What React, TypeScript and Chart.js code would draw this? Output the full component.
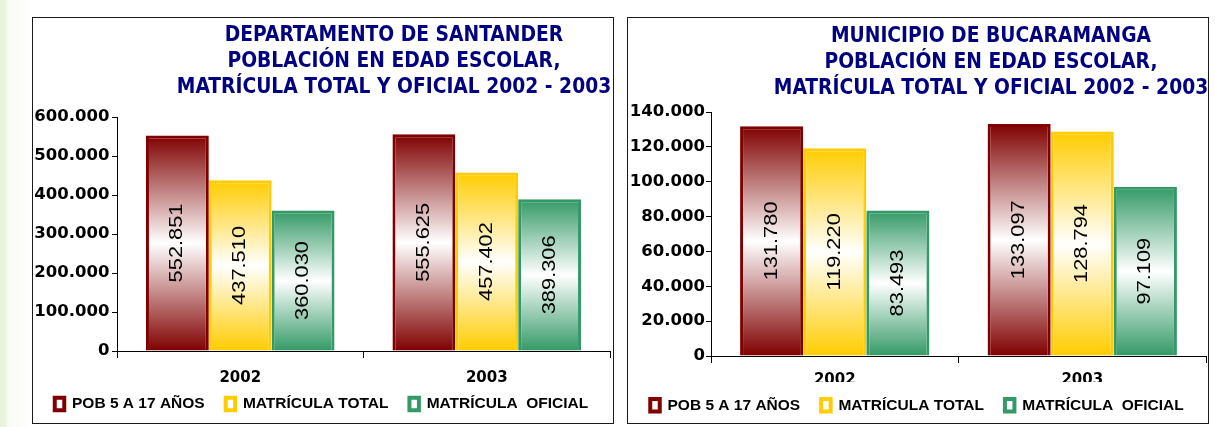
import React, { useEffect, useRef } from 'react';
import { Chart, registerables } from 'chart.js';

Chart.register(...registerables);

// ---------- data ----------
const years = ['2002', '2003'];
const seriesNames = ['POB 5 A 17 AÑOS', 'MATRÍCULA TOTAL', 'MATRÍCULA  OFICIAL'];
const seriesColors = ['#800000', '#ffcc00', '#339966'];

const santanderTitle = ['DEPARTAMENTO DE SANTANDER', 'POBLACIÓN EN EDAD ESCOLAR,', 'MATRÍCULA TOTAL Y OFICIAL 2002 - 2003'];
const santanderPob = [552851, 555625];
const santanderTotal = [437510, 457402];
const santanderOficial = [360030, 389306];
const santanderYMax = 600000;
const santanderYStep = 100000;

const bucaTitle = ['MUNICIPIO DE BUCARAMANGA', 'POBLACIÓN EN EDAD ESCOLAR,', 'MATRÍCULA TOTAL Y OFICIAL 2002 - 2003'];
const bucaPob = [131780, 133097];
const bucaTotal = [119220, 128794];
const bucaOficial = [83493, 97109];
const bucaYMax = 140000;
const bucaYStep = 20000;

// ---------- helpers ----------
const fmt = (v: number) => String(Math.round(v)).replace(/\B(?=(\d{3})+(?!\d))/g, '.');

const barLabelPlugin = {
  id: 'barLabels',
  afterDatasetsDraw(chart: any) {
    const ctx = chart.ctx;
    chart.data.datasets.forEach((ds: any, di: number) => {
      const meta = chart.getDatasetMeta(di);
      meta.data.forEach((el: any, i: number) => {
        const v = ds.data[i] as number;
        const x = el.x;
        const y = (el.y + el.base) / 2;
        ctx.save();
        ctx.translate(x, y);
        ctx.rotate(-Math.PI / 2);
        ctx.scale(1.18, 1);
        ctx.font = '18.5px "Liberation Sans", Arial, sans-serif';
        ctx.fillStyle = '#000';
        ctx.textAlign = 'center';
        ctx.textBaseline = 'middle';
        ctx.fillText(fmt(v), 0, 0);
        ctx.restore();
      });
    });
  },
};

type PanelProps = {
  left: number;
  top: number;
  title: string[];
  titleCenter: number;
  titleTop: number;
  pob: number[];
  total: number[];
  oficial: number[];
  yMax: number;
  yStep: number;
  yAxisWidth: number;
  padTop: number;
  padRight: number;
  padBottom: number;
  xAxisHeight: number;
  xLabelPad: number;
  yLabelPad: number;
  coverFrom?: number;
};

const PANEL_W = 582;
const PANEL_H = 407;

function Panel(p: PanelProps) {
  const ref = useRef<HTMLCanvasElement | null>(null);

  useEffect(() => {
    const canvas = ref.current!;
    const mk = (i: number, data: number[]) => ({
      label: seriesNames[i],
      data,
      borderColor: seriesColors[i],
      borderWidth: 3,
      borderSkipped: 'bottom',
      barPercentage: 1,
      categoryPercentage: 0.765,
      backgroundColor: (c: any) => {
        const color = seriesColors[i];
        const chart = c.chart;
        if (!chart.chartArea || c.type !== 'data') return color;
        const y = chart.scales.y;
        const t = y.getPixelForValue(c.raw as number);
        const b = y.getPixelForValue(0);
        if (!isFinite(t) || !isFinite(b) || t === b) return color;
        const g = chart.ctx.createLinearGradient(0, t, 0, b);
        g.addColorStop(0, color);
        g.addColorStop(0.5, '#ffffff');
        g.addColorStop(1, color);
        return g;
      },
    });

    const plugins: any[] = [barLabelPlugin];
    if (p.coverFrom !== undefined) {
      const from = p.coverFrom;
      plugins.push({
        id: 'coverLabels',
        afterDraw(chart: any) {
          const ctx = chart.ctx;
          ctx.save();
          ctx.fillStyle = '#ffffff';
          ctx.fillRect(chart.chartArea.left + 2, from, chart.chartArea.right - chart.chartArea.left - 4, 10);
          ctx.restore();
        },
      });
    }

    const chart = new Chart(canvas, {
      type: 'bar',
      data: {
        labels: years,
        datasets: [mk(0, p.pob), mk(1, p.total), mk(2, p.oficial)] as any,
      },
      options: {
        animation: false,
        responsive: false,
        maintainAspectRatio: false,
        layout: { padding: { left: 0, top: p.padTop, right: p.padRight, bottom: p.padBottom } },
        plugins: {
          title: { display: false },
          tooltip: { enabled: false },
          legend: {
            position: 'bottom',
            align: 'center',
            labels: {
              boxWidth: 9.5,
              boxHeight: 12.5,
              padding: 21,
              color: '#000',
              font: { family: '"Liberation Sans", Arial, sans-serif', weight: 'bold', size: 15.5 },
              generateLabels: (chart: any) =>
                chart.data.datasets.map((ds: any, i: number) => ({
                  text: ds.label,
                  fillStyle: '#ffffff',
                  strokeStyle: seriesColors[i],
                  lineWidth: 4,
                  hidden: false,
                  datasetIndex: i,
                  fontColor: '#000',
                })),
            },
          },
        },
        scales: {
          x: {
            type: 'category',
            offset: true,
            grid: { offset: true, drawOnChartArea: false, drawTicks: true, tickLength: 7, color: '#000', lineWidth: 1 },
            border: { display: true, color: '#000', width: 1 },
            ticks: {
              color: '#000',
              font: { family: '"DejaVu Sans", Verdana, sans-serif', weight: 'bold', size: 15 },
              padding: p.xLabelPad,
              maxRotation: 0,
              autoSkip: false,
            },
            afterFit: (s: any) => {
              s.height = p.xAxisHeight;
              // let the category labels extend below the (short) axis box
              s._computeLabelArea = () => undefined;
            },
          },
          y: {
            min: 0,
            max: p.yMax,
            grid: { drawOnChartArea: false, drawTicks: true, tickLength: 5, color: '#000', lineWidth: 1 },
            border: { display: true, color: '#000', width: 1 },
            ticks: {
              stepSize: p.yStep,
              color: '#000',
              padding: p.yLabelPad,
              font: { family: '"DejaVu Sans", Verdana, sans-serif', weight: 'bold', size: 16.5 },
              callback: (v: any) => fmt(Number(v)),
            },
            afterFit: (s: any) => {
              s.width = p.yAxisWidth;
            },
          },
        },
      } as any,
      plugins,
    });
    return () => chart.destroy();
  }, []);

  return (
    <>
      <div
        style={{
          position: 'absolute',
          left: p.left,
          top: p.top,
          width: PANEL_W,
          height: PANEL_H,
          boxSizing: 'border-box',
          border: '1px solid #1a1a1a',
          background: '#ffffff',
        }}
      />
      <canvas
        ref={ref}
        width={PANEL_W - 2}
        height={PANEL_H - 2}
        style={{ position: 'absolute', left: p.left + 1, top: p.top + 1, width: PANEL_W - 2, height: PANEL_H - 2 }}
      />
      <div
        style={{
          position: 'absolute',
          left: p.titleCenter - 300,
          top: p.titleTop,
          width: 600,
          textAlign: 'center',
          color: '#000080',
          fontFamily: '"DejaVu Sans Condensed", "DejaVu Sans", sans-serif',
          fontStretch: 'condensed',
          fontWeight: 'bold',
          fontSize: 20.8,
          lineHeight: '26px',
          whiteSpace: 'nowrap',
        }}
      >
        {p.title.map((t, i) => (
          <div key={i}>{t}</div>
        ))}
      </div>
    </>
  );
}

export default function App() {
  return (
    <div
      style={{
        position: 'absolute',
        left: 0,
        top: 0,
        width: 1215,
        height: 427,
        overflow: 'hidden',
        background: 'linear-gradient(to right, #e8f1da 0px, #eef5e4 6px, #f8fbf3 8px, #ffffff 30px)',
      }}
    >
      <Panel
        left={32}
        top={17}
        title={santanderTitle}
        titleCenter={394}
        titleTop={21}
        pob={santanderPob}
        total={santanderTotal}
        oficial={santanderOficial}
        yMax={santanderYMax}
        yStep={santanderYStep}
        yAxisWidth={84}
        padTop={99}
        padRight={3}
        padBottom={1.25}
        xAxisHeight={24.25}
        xLabelPad={11}
        yLabelPad={2.5}
      />
      <Panel
        left={627}
        top={17}
        title={bucaTitle}
        titleCenter={991}
        titleTop={22}
        pob={bucaPob}
        total={bucaTotal}
        oficial={bucaOficial}
        yMax={bucaYMax}
        yStep={bucaYStep}
        yAxisWidth={83}
        padTop={94}
        padRight={2}
        padBottom={0}
        xAxisHeight={20.5}
        xLabelPad={8}
        yLabelPad={1}
        coverFrom={364}
      />
    </div>
  );
}
